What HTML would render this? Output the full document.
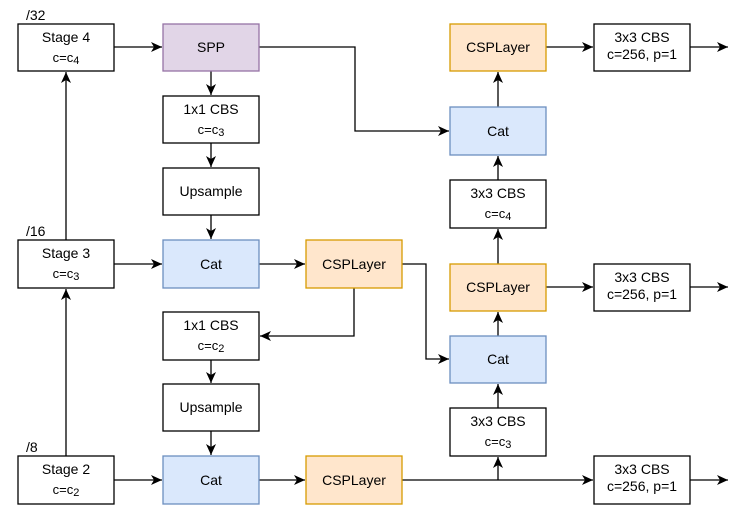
<!DOCTYPE html>
<html><head><meta charset="utf-8"><style>
html,body{margin:0;padding:0;background:#fff;}
svg{display:block;}
text{font-family:"Liberation Sans",Arial,sans-serif;fill:#000;}
</style></head><body>
<svg width="741" height="516" viewBox="0 0 741 516" xmlns="http://www.w3.org/2000/svg">
<defs>
<marker id="a" markerWidth="12" markerHeight="12" refX="11" refY="6" orient="auto" markerUnits="userSpaceOnUse">
<path d="M0,1 L11,6 L0,11 L3,6 Z" fill="#000"/>
</marker>
</defs>
<g stroke="#000" stroke-width="1.3" fill="none">
<line x1="114" y1="47" x2="162" y2="47" marker-end="url(#a)"/>
<line x1="114" y1="264" x2="162" y2="264" marker-end="url(#a)"/>
<line x1="114" y1="480" x2="162" y2="480" marker-end="url(#a)"/>
<line x1="66" y1="456" x2="66" y2="289" marker-end="url(#a)"/>
<line x1="66" y1="240" x2="66" y2="72" marker-end="url(#a)"/>
<line x1="211" y1="71" x2="211" y2="95" marker-end="url(#a)"/>
<line x1="211" y1="143" x2="211" y2="167" marker-end="url(#a)"/>
<line x1="211" y1="215" x2="211" y2="239" marker-end="url(#a)"/>
<line x1="211" y1="360" x2="211" y2="383" marker-end="url(#a)"/>
<line x1="211" y1="431" x2="211" y2="455" marker-end="url(#a)"/>
<line x1="259" y1="264" x2="305" y2="264" marker-end="url(#a)"/>
<line x1="259" y1="480" x2="305" y2="480" marker-end="url(#a)"/>
<polyline points="259,47 355,47 355,131 449,131" marker-end="url(#a)"/>
<polyline points="402,264 426,264 426,359 449,359" marker-end="url(#a)"/>
<polyline points="354,288 354,336 260,336" marker-end="url(#a)"/>
<line x1="402" y1="480" x2="593" y2="480" marker-end="url(#a)"/>
<line x1="498" y1="480" x2="498" y2="457" marker-end="url(#a)"/>
<line x1="498" y1="408" x2="498" y2="384" marker-end="url(#a)"/>
<line x1="498" y1="336" x2="498" y2="312" marker-end="url(#a)"/>
<line x1="498" y1="264" x2="498" y2="229" marker-end="url(#a)"/>
<line x1="498" y1="180" x2="498" y2="156" marker-end="url(#a)"/>
<line x1="498" y1="107" x2="498" y2="72" marker-end="url(#a)"/>
<line x1="546" y1="47" x2="593" y2="47" marker-end="url(#a)"/>
<line x1="546" y1="287" x2="593" y2="287" marker-end="url(#a)"/>
<line x1="690" y1="47" x2="728" y2="47" marker-end="url(#a)"/>
<line x1="690" y1="287" x2="728" y2="287" marker-end="url(#a)"/>
<line x1="690" y1="480" x2="728" y2="480" marker-end="url(#a)"/>
</g>
<g stroke-width="1.3">
<rect x="18" y="24" width="96" height="47" fill="#fff" stroke="#000"/>
<rect x="18" y="240" width="96" height="48" fill="#fff" stroke="#000"/>
<rect x="18" y="456" width="96" height="48" fill="#fff" stroke="#000"/>
<rect x="163" y="24" width="96" height="47" fill="#e1d5e7" stroke="#9673a6"/>
<rect x="163" y="96" width="96" height="47" fill="#fff" stroke="#000"/>
<rect x="163" y="168" width="96" height="47" fill="#fff" stroke="#000"/>
<rect x="163" y="240" width="96" height="48" fill="#dae8fc" stroke="#6c8ebf"/>
<rect x="163" y="312" width="96" height="48" fill="#fff" stroke="#000"/>
<rect x="163" y="384" width="96" height="47" fill="#fff" stroke="#000"/>
<rect x="163" y="456" width="96" height="48" fill="#dae8fc" stroke="#6c8ebf"/>
<rect x="306" y="240" width="96" height="48" fill="#ffe6cc" stroke="#d79b00"/>
<rect x="306" y="456" width="96" height="48" fill="#ffe6cc" stroke="#d79b00"/>
<rect x="450" y="24" width="96" height="47" fill="#ffe6cc" stroke="#d79b00"/>
<rect x="450" y="107" width="96" height="48" fill="#dae8fc" stroke="#6c8ebf"/>
<rect x="450" y="180" width="96" height="48" fill="#fff" stroke="#000"/>
<rect x="450" y="264" width="96" height="47" fill="#ffe6cc" stroke="#d79b00"/>
<rect x="450" y="336" width="96" height="47" fill="#dae8fc" stroke="#6c8ebf"/>
<rect x="450" y="408" width="96" height="48" fill="#fff" stroke="#000"/>
<rect x="594" y="24" width="96" height="47" fill="#fff" stroke="#000"/>
<rect x="594" y="264" width="96" height="47" fill="#fff" stroke="#000"/>
<rect x="594" y="456" width="96" height="48" fill="#fff" stroke="#000"/>
</g>
<g font-size="14" text-anchor="middle">
<text x="26" y="20" text-anchor="start">/32</text>
<text x="26" y="236" text-anchor="start">/16</text>
<text x="26" y="452" text-anchor="start">/8</text>
<text x="66" y="42">Stage 4</text>
<text x="66" y="62" font-size="13">c=c<tspan font-size="11" dy="2">4</tspan></text>
<text x="66" y="258">Stage 3</text>
<text x="66" y="278" font-size="13">c=c<tspan font-size="11" dy="2">3</tspan></text>
<text x="66" y="474">Stage 2</text>
<text x="66" y="494" font-size="13">c=c<tspan font-size="11" dy="2">2</tspan></text>
<text x="211" y="52">SPP</text>
<text x="211" y="114">1x1 CBS</text>
<text x="211" y="134" font-size="13">c=c<tspan font-size="11" dy="2">3</tspan></text>
<text x="211" y="196">Upsample</text>
<text x="211" y="269">Cat</text>
<text x="211" y="330">1x1 CBS</text>
<text x="211" y="350" font-size="13">c=c<tspan font-size="11" dy="2">2</tspan></text>
<text x="211" y="412">Upsample</text>
<text x="211" y="485">Cat</text>
<text x="354" y="269">CSPLayer</text>
<text x="354" y="485">CSPLayer</text>
<text x="498" y="52">CSPLayer</text>
<text x="498" y="136">Cat</text>
<text x="498" y="198">3x3 CBS</text>
<text x="498" y="218" font-size="13">c=c<tspan font-size="11" dy="2">4</tspan></text>
<text x="498" y="292">CSPLayer</text>
<text x="498" y="364">Cat</text>
<text x="498" y="426">3x3 CBS</text>
<text x="498" y="446" font-size="13">c=c<tspan font-size="11" dy="2">3</tspan></text>
<text x="642" y="42">3x3 CBS</text>
<text x="642" y="59">c=256, p=1</text>
<text x="642" y="282">3x3 CBS</text>
<text x="642" y="299">c=256, p=1</text>
<text x="642" y="474">3x3 CBS</text>
<text x="642" y="491">c=256, p=1</text>
</g>
</svg>
</body></html>
